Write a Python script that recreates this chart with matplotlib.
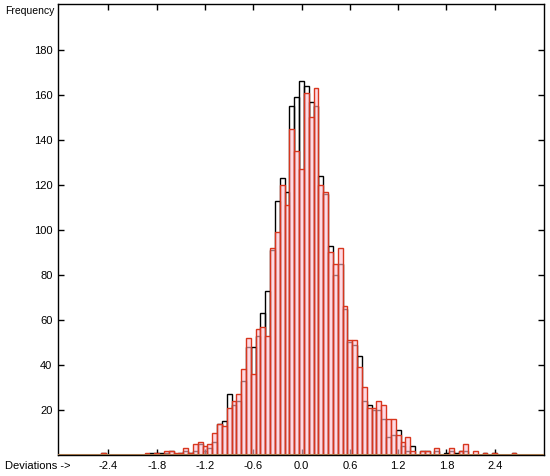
import numpy as np
import matplotlib
matplotlib.use('Agg')
import matplotlib.pyplot as plt

plt.rcParams['font.family'] = ['Liberation Sans', 'DejaVu Sans']

# bins are 0.06 wide, centred on k*0.06
bin_width = 0.06
k_first = -41
# black outline histogram
counts_black = [1, 0, 0, 0, 0, 0, 0, 0, 0, 0,      # -41 .. -32
                1, 1, 1, 1, 2, 0, 1, 2, 1, 2,      # -31 .. -22
                5, 2, 3, 6, 14, 15, 27, 22, 24, 33,  # -21 .. -12
                48, 48, 53, 63, 73, 91, 113, 123, 117, 155,  # -11 .. -2
                159, 166, 164, 157, 155, 124, 116, 93, 80, 85,  # -1 .. 8
                65, 50, 49, 44, 24, 22, 20, 20, 16, 8,  # 9 .. 18
                9, 11, 4, 2, 4, 0, 2, 2, 0, 2,      # 19 .. 28
                0, 1, 2, 1, 2, 2, 0, 0, 0, 1,      # 29 .. 38
                0, 1, 0, 0, 0, 1]                  # 39 .. 44
# red filled histogram
counts_red = [1, 0, 0, 0, 0, 0, 0, 0, 0, 1,        # -41 .. -32
              0, 1, 0, 2, 2, 1, 1, 3, 1, 5,        # -31 .. -22
              6, 4, 5, 10, 14, 13, 21, 24, 27, 38,  # -21 .. -12
              52, 36, 56, 57, 53, 92, 99, 120, 111, 145,  # -11 .. -2
              135, 127, 161, 150, 163, 120, 117, 90, 85, 92,  # -1 .. 8
              66, 51, 51, 39, 30, 21, 21, 24, 22, 16,  # 9 .. 18
              16, 9, 6, 8, 2, 0, 2, 2, 0, 3,       # 19 .. 28
              0, 0, 3, 0, 2, 5, 0, 2, 0, 1,        # 29 .. 38
              0, 1, 0, 0, 0, 1]                    # 39 .. 44

xtick_vals = [-2.4, -1.8, -1.2, -0.6, 0.0, 0.6, 1.2, 1.8, 2.4]
ytick_vals = [20, 40, 60, 80, 100, 120, 140, 160, 180]

centers = (k_first + np.arange(len(counts_black))) * bin_width

fig = plt.figure(figsize=(5.5, 4.76), dpi=100, facecolor='white')
ax = fig.add_axes([0.1055, 0.0441, 0.8836, 0.9475])

ax.bar(centers, counts_black, bin_width, facecolor='none',
       edgecolor='black', linewidth=1.0, zorder=2)
ax.bar(centers, counts_red, bin_width, facecolor=(1.0, 0.76, 0.82, 0.6),
       edgecolor='#d8361e', linewidth=1.0, zorder=3)
ax.axhline(0, color='#a0744a', linewidth=2.2, zorder=4)

ax.set_xlim(-3.025, 3.012)
ax.set_ylim(0, 200.4)
ax.set_xticks(xtick_vals)
ax.set_xticklabels(['%.1f' % v for v in xtick_vals])
ax.set_yticks(ytick_vals)
ax.tick_params(direction='in', top=True, right=True, length=4, width=1,
               labelsize=8, pad=4)
for s in ax.spines.values():
    s.set_linewidth(1.0)

fig.text(0.009, 0.977, 'Frequency', fontsize=7.5, ha='left', va='center')
fig.text(0.009, 0.021, 'Deviations ->', fontsize=8, ha='left', va='center')

plt.savefig('out.png', dpi=100)
